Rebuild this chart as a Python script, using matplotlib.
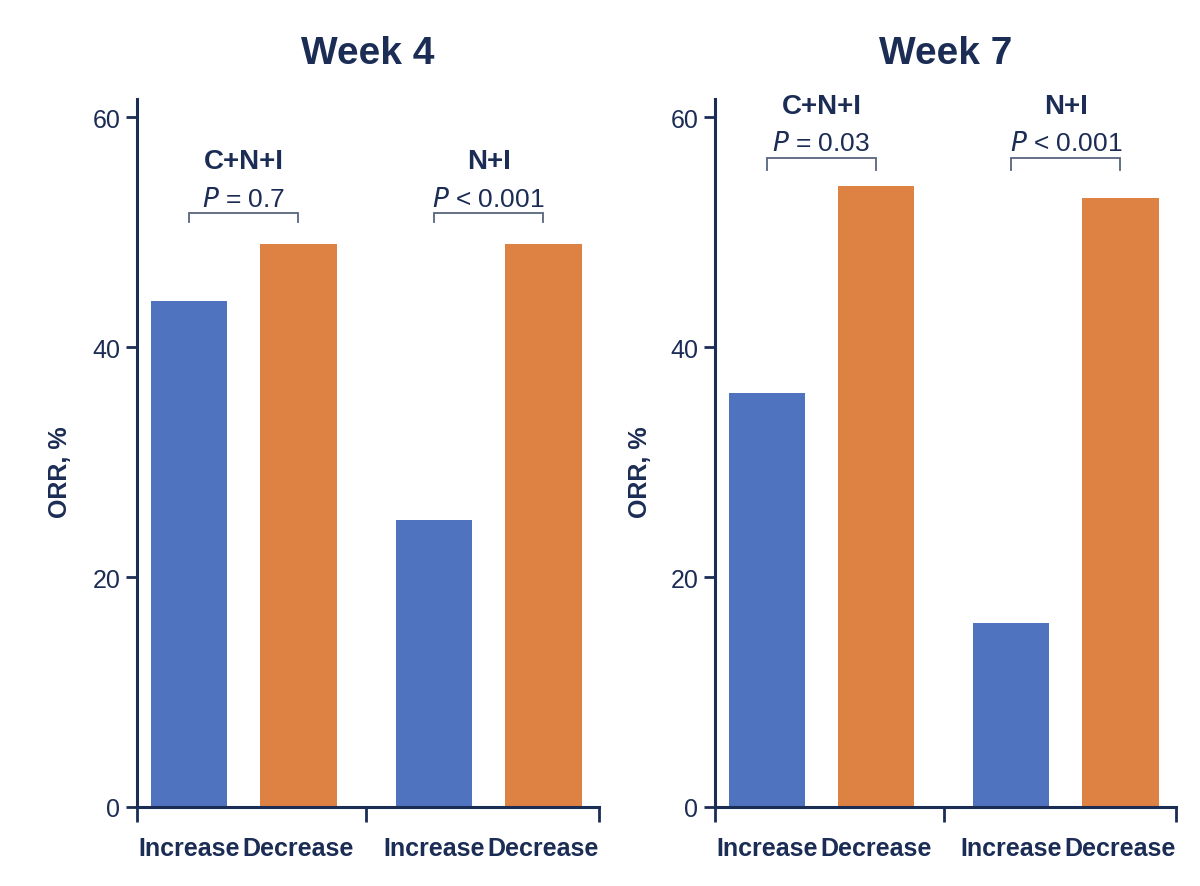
import matplotlib
matplotlib.use("Agg")
import matplotlib.pyplot as plt
from matplotlib import font_manager as fm

names = {f.name for f in fm.fontManager.ttflist}
FONT = "Liberation Sans Narrow" if "Liberation Sans Narrow" in names else "Liberation Sans"
plt.rcParams['font.family'] = [FONT, 'DejaVu Sans']

# ---- data ----
panels = ["Week 4", "Week 7"]
groups = ["C+N+I", "N+I"]
bar_labels = ["Increase", "Decrease"]
week4_increase = [44, 25]
week4_decrease = [49, 49]
week7_increase = [36, 16]
week7_decrease = [54, 53]
week4_p = ["= 0.7", "< 0.001"]
week7_p = ["= 0.03", "< 0.001"]
yticks = [0, 20, 40, 60]

NAVY = "#1b2c55"
BLUE = "#4f73bf"
ORANGE = "#de8244"
BRACKET = "#56657d"

fig = plt.figure(figsize=(12, 8.87), dpi=100)
axes_rects = [
    [137/1200, 79/887, 462/1200, 708/887],
    [715/1200, 79/887, 461/1200, 708/887],
]
data = [
    (week4_increase, week4_decrease, week4_p, (51.7, 50.9, 52.9, 56.2)),
    (week7_increase, week7_decrease, week7_p, (56.5, 55.4, 57.8, 61.0)),
]
gap = 2.24
width = 0.70
xmin, xmax = -0.477, 3.75
ylabel_x = [60/1200, 640/1200]

for i, (rect, title) in enumerate(zip(axes_rects, panels)):
    ax = fig.add_axes(rect)
    inc, dec, pv, (yb, yleg, yp, yg) = data[i]
    for g in range(2):
        x0 = g * gap
        ax.bar(x0, inc[g], width=width, color=BLUE, zorder=2)
        ax.bar(x0 + 1, dec[g], width=width, color=ORANGE, zorder=2)
        ax.plot([x0, x0, x0 + 1, x0 + 1], [yleg, yb, yb, yleg], color=BRACKET,
                lw=1.3, solid_joinstyle='miter', clip_on=False)
        ax.text(x0 + 0.5, yp, r"$\it{P}$ " + pv[g], ha='center', va='center',
                fontsize=19, color=NAVY)
        ax.text(x0 + 0.5, yg, groups[g], ha='center', va='center',
                fontsize=20, fontweight='bold', color=NAVY)
    ax.set_xlim(xmin, xmax)
    ax.set_ylim(0, 61.6)
    for s in ['top', 'right']:
        ax.spines[s].set_visible(False)
    for s in ['left', 'bottom']:
        ax.spines[s].set_color(NAVY)
        ax.spines[s].set_linewidth(2.2)
    ax.set_yticks(yticks)
    ax.set_yticklabels([str(v) for v in yticks])
    ax.tick_params(axis='y', direction='out', length=8, width=2.0, color=NAVY,
                   labelsize=18, labelcolor=NAVY, pad=4)
    ax.set_xticks([xmin, (1 + gap) / 2, xmax])
    ax.set_xticklabels(["", "", ""])
    ax.tick_params(axis='x', which='major', direction='out', length=11, width=2.0, color=NAVY)
    pos = [0, 1, gap, gap + 1]
    ax.set_xticks(pos, minor=True)
    ax.set_xticklabels(bar_labels * 2, minor=True)
    ax.tick_params(axis='x', which='minor', length=0, pad=21, labelsize=18,
                   labelcolor=NAVY)
    for lab in ax.get_xticklabels(minor=True):
        lab.set_fontweight('bold')
    ax.set_title(title, fontsize=28, fontweight='bold', color=NAVY, pad=26)
    fig.text(ylabel_x[i], 1 - 472/887, "ORR, %", rotation=90, ha='center', va='center',
             fontsize=18, fontweight='bold', color=NAVY)

fig.savefig("out.png", dpi=100)
